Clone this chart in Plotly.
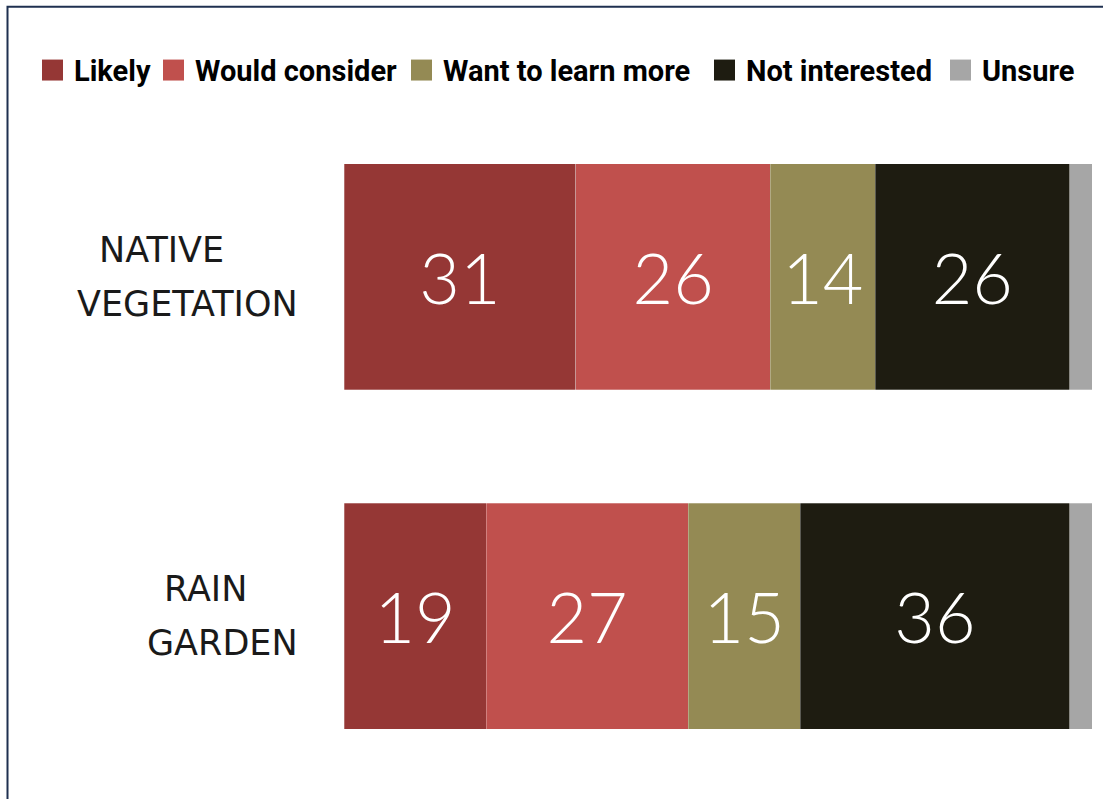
import plotly.graph_objects as go

# Survey responses (percent) for each landscaping practice
categories = ["NATIVE VEGETATION", "RAIN GARDEN"]
label_lines = [["NATIVE", "VEGETATION"], ["RAIN", "GARDEN"]]
series_names = ["Likely", "Would consider", "Want to learn more", "Not interested", "Unsure"]
likely = [31, 19]
would_consider = [26, 27]
want_to_learn = [14, 15]
not_interested = [26, 36]
unsure = [3, 3]
series_values = [likely, would_consider, want_to_learn, not_interested, unsure]
series_colors = ["#953735", "#C0504D", "#948A54", "#1E1C11", "#A6A6A6"]
show_labels = [True, True, True, True, False]

W, H = 1103, 799
ML, MR, MT, MB = 344, 11, 106.5, 12.5
PW, PH = W - ML - MR, H - MT - MB


def px_x(px):
    return (px - ML) / PW


def px_y(py):
    return (H - MB - py) / PH


fig = go.Figure()
for name, vals, color, lab in zip(series_names, series_values, series_colors, show_labels):
    fig.add_trace(go.Bar(
        y=categories,
        x=vals,
        name=name,
        orientation="h",
        marker=dict(color=color, line=dict(color="rgba(255,255,255,0.35)", width=0.8)),
        text=[str(v) for v in vals] if lab else None,
        textposition="inside" if lab else "none",
        insidetextanchor="middle",
        textfont=dict(family="Lato, Open Sans, sans-serif", size=70, color="white", weight=300),
        showlegend=False,
        hoverinfo="x+name",
    ))

annotations = []
shapes = []

# Category labels, two lines each (first line centred, second right-aligned)
label_font = dict(family="DejaVu Sans, sans-serif", size=35, color="#1a1a1a")
first_line_center = [161, 205]
for cat, lines, cx in zip(categories, label_lines, first_line_center):
    annotations.append(dict(
        x=px_x(cx), xref="paper", xanchor="center",
        y=cat, yref="y", yanchor="middle", yshift=27,
        text=lines[0], showarrow=False, font=label_font,
    ))
    annotations.append(dict(
        x=px_x(300), xref="paper", xanchor="right",
        y=cat, yref="y", yanchor="middle", yshift=-27,
        text=lines[1], showarrow=False, font=label_font,
    ))

# Legend row across the top
legend_square_x = [42, 163, 411, 714, 950]
for name, color, sx in zip(series_names, series_colors, legend_square_x):
    shapes.append(dict(
        type="rect", xref="paper", yref="paper",
        x0=px_x(sx), x1=px_x(sx + 21), y0=px_y(80), y1=px_y(59),
        fillcolor=color, line=dict(width=0),
    ))
    annotations.append(dict(
        x=px_x(sx + 30), xref="paper", xanchor="left",
        y=px_y(70), yref="paper", yanchor="middle",
        text=name, showarrow=False,
        font=dict(family="Roboto, Liberation Sans, sans-serif",
                  size=29, color="#000000", weight="bold"),
    ))

# Outer frame
shapes.append(dict(
    type="rect", xref="paper", yref="paper",
    x0=px_x(7.5), x1=px_x(W + 10), y0=px_y(H + 10), y1=px_y(6),
    line=dict(color="#1F3050", width=2), fillcolor="rgba(0,0,0,0)", layer="above",
))

fig.update_layout(
    width=W, height=H,
    margin=dict(l=ML, r=MR, t=MT, b=MB),
    barmode="stack",
    bargap=1 / 3,
    paper_bgcolor="white",
    plot_bgcolor="white",
    uniformtext=dict(minsize=70, mode="show"),
    xaxis=dict(range=[0, 100], visible=False, fixedrange=True),
    yaxis=dict(range=[1.5, -0.5], showticklabels=False, showgrid=False,
               zeroline=False, showline=False, ticks=""),
    annotations=annotations,
    shapes=shapes,
)

fig.write_html("out.html")
